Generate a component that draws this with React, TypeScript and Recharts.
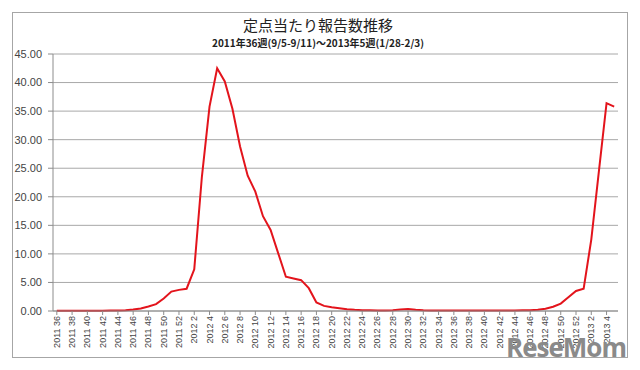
import { LineChart, Line, XAxis, YAxis, CartesianGrid } from "recharts";

// week ranges shown on the x axis
const yearRanges: [number, number, number][] = [
  [2011, 36, 52],
  [2012, 1, 52],
  [2013, 1, 5],
];

const categories: string[] = [];
yearRanges.forEach(([year, from, to]) => {
  for (let w = from; w <= to; w++) categories.push(`${year} ${w}`);
});

// reports per sentinel site, 2011 w36 .. 2013 w5
const reports = [
  0.05, 0.05, 0.05, 0.05, 0.05, 0.05, 0.06, 0.08, 0.1, 0.15,
  0.25, 0.45, 0.8, 1.2, 2.2, 3.4, 3.7, 3.9, 7.3, 23.5,
  35.8, 42.5, 40.2, 35.4, 28.8, 23.7, 20.9, 16.6, 14.2, 10.1,
  6.0, 5.7, 5.4, 4.0, 1.5, 0.9, 0.65, 0.5, 0.3, 0.2,
  0.15, 0.12, 0.1, 0.1, 0.15, 0.25, 0.35, 0.2, 0.12, 0.1,
  0.08, 0.08, 0.08, 0.08, 0.08, 0.08, 0.08, 0.08, 0.08, 0.1,
  0.1, 0.12, 0.15, 0.2, 0.4, 0.75, 1.3, 2.4, 3.5, 3.9,
  12.5, 24.5, 36.4, 35.8,
];

const yTicks = [0, 5, 10, 15, 20, 25, 30, 35, 40, 45];

const data = categories.map((week, i) => ({ week, value: reports[i] }));

function WeekTick({ x, y, payload }: { x?: number; y?: number; payload?: { value: string } }) {
  return (
    <text
      x={x}
      y={y}
      dy={3}
      transform={`rotate(-90 ${x} ${y})`}
      textAnchor="end"
      fontSize={9}
      fill="#444"
      fontFamily="'Liberation Sans', Arial, sans-serif"
    >
      {payload?.value}
    </text>
  );
}

export default function App() {
  return (
    <div style={{ position: "absolute", left: 0, top: 0, width: 640, height: 370, background: "#fff" }}>
      <div
        style={{
          position: "absolute",
          left: 12,
          top: 12,
          width: 614,
          height: 344,
          border: "1px solid #a6a6a6",
        }}
      />
      <div
        style={{
          position: "absolute",
          left: 0,
          width: 636,
          top: 15,
          textAlign: "center",
          fontFamily: "'Noto Sans CJK JP', sans-serif",
          fontSize: 15,
          color: "#222",
          lineHeight: "20px",
        }}
      >
        定点当たり報告数推移
      </div>
      <div
        style={{
          position: "absolute",
          left: 0,
          width: 636,
          top: 36,
          textAlign: "center",
          fontFamily: "'Noto Sans CJK JP', sans-serif",
          fontSize: 10,
          fontWeight: 700,
          color: "#222",
          lineHeight: "14px",
        }}
      >
        2011年36週(9/5-9/11)～2013年5週(1/28-2/3)
      </div>
      <div style={{ position: "absolute", left: 0, top: 0 }}>
        <LineChart width={640} height={370} data={data} margin={{ top: 54, right: 22, left: 13, bottom: 14 }}>
          <CartesianGrid vertical={false} stroke="#a8a8a8" strokeWidth={1} />
          <XAxis
            dataKey="week"
            scale="band"
            interval={1}
            height={45}
            tick={<WeekTick />}
            tickSize={4}
            tickMargin={1}
            axisLine={{ stroke: "#8c8c8c" }}
            tickLine={{ stroke: "#8c8c8c" }}
          />
          <YAxis
            domain={[0, 45]}
            ticks={yTicks}
            width={40}
            tickFormatter={(v: number) => v.toFixed(2)}
            tick={{ fontSize: 11, fill: "#444", fontFamily: "'Liberation Sans', Arial, sans-serif" }}
            tickSize={5}
            tickMargin={6}
            axisLine={{ stroke: "#8c8c8c" }}
            tickLine={{ stroke: "#8c8c8c" }}
          />
          <Line
            type="linear"
            dataKey="value"
            stroke="#e3141c"
            strokeWidth={2}
            dot={false}
            isAnimationActive={false}
          />
        </LineChart>
      </div>
      <div
        style={{
          position: "absolute",
          right: 14,
          top: 332,
          fontFamily: "'Open Sans', sans-serif",
          fontWeight: 700,
          fontSize: 26,
          color: "#8a8a8a",
          letterSpacing: -1,
          lineHeight: "30px",
        }}
      >
        ReseMom
      </div>
    </div>
  );
}
